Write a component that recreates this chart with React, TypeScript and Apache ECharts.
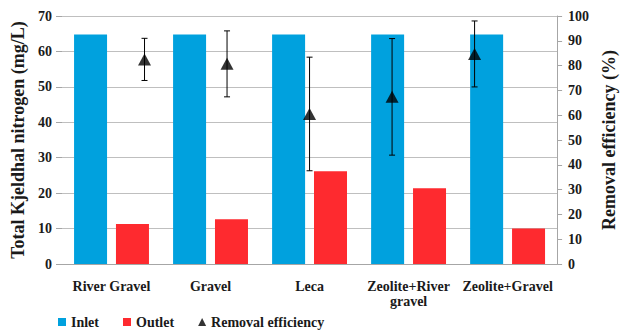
import React, { useEffect, useRef } from "react";
import * as echarts from "echarts";

// Media tested in the wetland columns
const categories = ["River Gravel", "Gravel", "Leca", "Zeolite+River\ngravel", "Zeolite+Gravel"];
// Total Kjeldahl nitrogen (mg/L)
const inlet = [64.8, 64.8, 64.8, 64.8, 64.8];
const outlet = [11.3, 12.6, 26.2, 21.4, 10.0];
// Removal efficiency (%) and its error (±)
const removal = [82.5, 80.7, 60.5, 67.4, 84.7];
const removalErr = [8.5, 13.3, 22.9, 23.5, 13.3];

const leftTicks = { min: 0, max: 70, interval: 10 };
const rightTicks = { min: 0, max: 100, interval: 10 };

const FONT = "'Liberation Serif', 'Times New Roman', serif";
const BLUE = "#00A1DE";
const RED = "#FE2A2F";

export default function App() {
  const ref = useRef<HTMLDivElement>(null);

  useEffect(() => {
    if (!ref.current) return;
    const chart = echarts.init(ref.current, null, { renderer: "svg" });

    // removal points sit on their own evenly spaced positions 1..5 of a 0..6 axis
    const removalPoints = removal.map((v, i) => [i + 1, v]);
    const errData = removal.map((v, i) => [i + 1, v - removalErr[i], v + removalErr[i]]);

    const labelStyle = {
      fontFamily: FONT,
      fontWeight: "bold" as const,
      fontSize: 14,
      color: "#1a1a1a",
    };

    chart.setOption({
      animation: false,
      backgroundColor: "#ffffff",
      grid: { left: 62, right: 66, top: 16, bottom: 69, containLabel: false },
      legend: {
        left: 58,
        top: 315,
        padding: 0,
        itemWidth: 8,
        itemHeight: 8,
        itemGap: 24,
        textStyle: { ...labelStyle },
        data: [
          { name: "Inlet", icon: "rect" },
          { name: "Outlet", icon: "rect" },
          { name: "Removal efficiency", icon: "triangle" },
        ],
      },
      xAxis: [
        {
          type: "category",
          data: categories,
          axisLine: { show: true, lineStyle: { color: "#a6a6a6", width: 1 } },
          axisTick: { show: false },
          axisLabel: { ...labelStyle, margin: 15, lineHeight: 15, interval: 0 },
          splitLine: { show: false },
        },
        {
          type: "value",
          min: 0,
          max: 6,
          show: false,
          position: "bottom",
          splitLine: { show: false },
        },
      ],
      yAxis: [
        {
          type: "value",
          ...leftTicks,
          position: "left",
          name: "Total Kjeldhal nitrogen (mg/L)",
          nameLocation: "middle",
          nameRotate: 90,
          nameGap: 33,
          nameTextStyle: { ...labelStyle, fontSize: 18 },
          axisLine: { show: false },
          axisTick: { show: true, length: 6, lineStyle: { color: "#a6a6a6" } },
          axisLabel: { ...labelStyle, margin: 10 },
          splitLine: { show: true, lineStyle: { color: "#bfbfbf", width: 1 } },
        },
        {
          type: "value",
          ...rightTicks,
          position: "right",
          name: "Removal efficiency (%)",
          nameLocation: "middle",
          nameRotate: 90,
          nameGap: 42,
          nameTextStyle: { ...labelStyle, fontSize: 18 },
          axisLine: { show: true, lineStyle: { color: "#a6a6a6", width: 1 } },
          axisTick: { show: true, length: 5, lineStyle: { color: "#a6a6a6" } },
          axisLabel: { ...labelStyle, margin: 11 },
          splitLine: { show: false },
        },
      ],
      series: [
        {
          name: "Inlet",
          type: "bar",
          data: inlet,
          barWidth: 33,
          barGap: "27%",
          itemStyle: { color: BLUE },
        },
        {
          name: "Outlet",
          type: "bar",
          data: outlet,
          barWidth: 33,
          barGap: "27%",
          itemStyle: { color: RED },
        },
        {
          name: "Removal efficiency",
          type: "scatter",
          xAxisIndex: 1,
          yAxisIndex: 1,
          data: removalPoints,
          symbol: "triangle",
          symbolSize: [13, 12],
          itemStyle: { color: "#000000" },
          z: 5,
        },
        {
          name: "Removal error",
          type: "custom",
          xAxisIndex: 1,
          yAxisIndex: 1,
          data: errData,
          z: 4,
          renderItem: (_params: any, api: any) => {
            const x = api.value(0);
            const lo = api.coord([x, api.value(1)]);
            const hi = api.coord([x, api.value(2)]);
            const cap = 3;
            const style = { stroke: "#000000", lineWidth: 1 };
            return {
              type: "group",
              children: [
                { type: "line", shape: { x1: hi[0], y1: hi[1], x2: lo[0], y2: lo[1] }, style },
                { type: "line", shape: { x1: hi[0] - cap, y1: hi[1], x2: hi[0] + cap, y2: hi[1] }, style },
                { type: "line", shape: { x1: lo[0] - cap, y1: lo[1], x2: lo[0] + cap, y2: lo[1] }, style },
              ],
            };
          },
        },
      ],
    });

    return () => chart.dispose();
  }, []);

  return (
    <div
      ref={ref}
      style={{ position: "fixed", left: 0, top: 0, width: 626, height: 333 }}
    />
  );
}
